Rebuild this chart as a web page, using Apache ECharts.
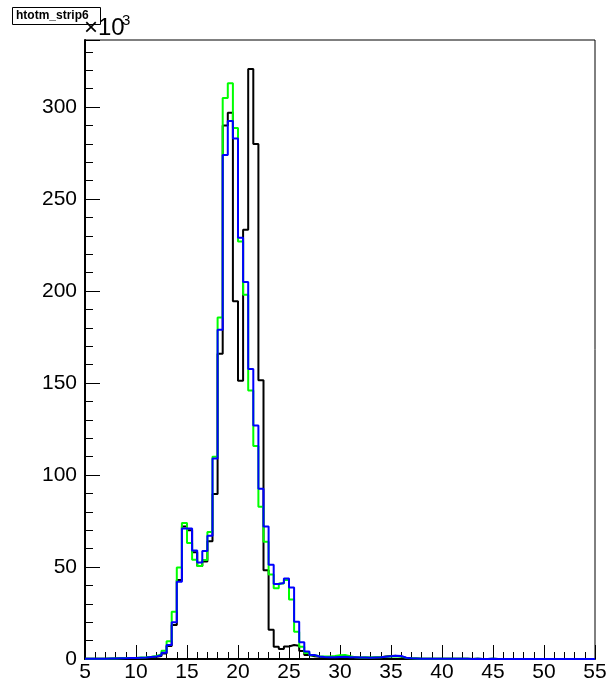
<!DOCTYPE html>
<html>
<head>
<meta charset="utf-8">
<script src="https://cdn.jsdelivr.net/npm/echarts@6/dist/echarts.min.js"></script>
<style>
html,body{margin:0;padding:0;background:#fff;}
#c{width:611px;height:689px;}
</style>
</head>
<body>
<div id="c"></div>
<script>
// Histogram: 100 bins of width 0.5 from 5 to 55, values in units of 10^3
const xMin = 5, xMax = 55, binWidth = 0.5;
const yMax = 336.5;
const histName = 'htotm_strip6';
const scaleText = '×10';
const scaleExponent = '3';

const blackValues = [
  0.1,0.1,0.1,0.2,0.2,0.3,0.3,0.4,0.4,0.5,
  0.6,0.7,0.9,1.2,1.6,3.0,7.0,18.5,43,72,
  70,58,50.5,53,64,89.7,166,290,297,194.5,
  151.2,233.4,320.8,280,151.6,48.2,15.9,6.6,5.5,6.8,
  7.6,7.2,4.4,2.2,1.5,1.2,1.0,0.9,0.9,1.0,
  1.0,0.9,0.8,0.7,0.7,0.7,0.8,0.9,1.3,1.6,
  1.7,1.4,0.6,0.4,0.3,0.2,0.2,0.1,0.1,0.1,
  0.1,0.1,0.1,0.1,0.1,0,0.1,0,0,0.1,
  0,0,0,0,0,0,0,0,0,0,
  0,0,0,0,0,0,0,0,0,0
];
const greenValues = [
  0.1,0.1,0.2,0.2,0.3,0.3,0.4,0.5,0.5,0.6,
  0.8,0.9,1.2,1.6,2.5,4.5,9.6,25.7,49.8,74,
  63,54,50.5,53.8,69,110,185.7,305,313,288.6,
  227,198,146,115.8,82.8,63.7,46,38.4,41,43,
  32.4,14.8,6.7,3.3,2.0,1.5,1.3,1.3,1.6,2.1,
  2.2,1.5,1.0,0.8,0.9,0.8,0.9,1.0,1.2,1.4,
  1.5,1.3,0.6,0.4,0.3,0.2,0.2,0.1,0.1,0.1,
  0.1,0.1,0.1,0.1,0.1,0,0.1,0,0,0.1,
  0,0,0,0,0,0,0,0,0,0,
  0,0,0,0,0,0,0,0,0,0
];
const blueValues = [
  0.1,0.1,0.2,0.2,0.3,0.3,0.4,0.4,0.5,0.5,
  0.7,0.8,1.1,1.4,2.0,3.4,7.6,20,42,71,
  71,59,52.5,58.7,67,109,179,274,292.5,283,
  229,205,157.6,127,92.5,72,51.3,40.8,41.3,43.8,
  38.9,20.3,9.1,4.1,2.2,1.4,1.1,1.0,1.0,1.1,
  1.2,1.0,0.9,0.8,0.8,0.7,0.8,0.9,1.2,1.5,
  1.8,1.6,0.7,0.4,0.3,0.2,0.2,0.1,0.1,0.1,
  0.1,0.1,0.1,0.1,0.1,0,0.1,0,0,0.1,
  0,0,0,0,0,0,0,0,0,0,
  0,0,0,0,0,0,0,0,0,0
];
const seriesColors = ['#000000', '#00ff00', '#0000ff'];

const binEdges = blackValues.map((_, i) => xMin + i * binWidth);
function stepData(vals) {
  const d = vals.map((v, i) => [binEdges[i], v]);
  d.push([xMax, vals[vals.length - 1]]);
  return d;
}

const FONT = '"Liberation Sans", Arial, Helvetica, sans-serif';
const chart = echarts.init(document.getElementById('c'), null, {renderer: 'canvas'});

function histSeries(vals, color) {
  return {
    type: 'line', step: 'end', symbol: 'none', animation: false,
    data: stepData(vals), xAxisIndex: 0, yAxisIndex: 0,
    lineStyle: {color: color, width: 2}, silent: true
  };
}

chart.setOption({
  backgroundColor: '#ffffff',
  animation: false,
  title: [
    {
      text: scaleText, left: 84, top: 16, padding: 0,
      textStyle: {fontFamily: FONT, fontSize: 24, fontWeight: 'normal', color: '#000'}
    },
    {
      text: scaleExponent, left: 122, top: 13, padding: 0,
      textStyle: {fontFamily: FONT, fontSize: 15, fontWeight: 'normal', color: '#000'}
    },
    {
      text: histName, left: 12, top: 7,
      padding: [3, 12, 3, 4],
      borderColor: '#000', borderWidth: 1, backgroundColor: '#fff',
      textStyle: {fontFamily: FONT, fontSize: 12, fontWeight: 'bold', color: '#000'}
    }
  ],
  grid: {left: 85, right: 16, top: 40, bottom: 30, show: true, borderColor: '#000', borderWidth: 1, backgroundColor: 'transparent', containLabel: false},
  xAxis: [{
    type: 'value', min: xMin, max: xMax, interval: 5,
    axisLine: {show: true, onZero: false, lineStyle: {color: '#000', width: 2}},
    axisTick: {show: true, inside: true, length: 14, lineStyle: {color: '#000', width: 1}},
    minorTick: {show: true, splitNumber: 5, length: 7, lineStyle: {color: '#000', width: 1}},
    splitLine: {show: false},
    axisLabel: {fontFamily: FONT, fontSize: 21, color: '#000', margin: 3}
  }],
  yAxis: [{
    type: 'value', min: 0, max: yMax, interval: 50,
    axisLine: {show: true, onZero: false, lineStyle: {color: '#000', width: 2}},
    axisTick: {show: true, inside: true, length: 15, lineStyle: {color: '#000', width: 1}},
    splitLine: {show: false},
    axisLabel: {fontFamily: FONT, fontSize: 21, color: '#000', margin: 8,
      formatter: v => (Math.abs(v % 50) < 1e-6 ? String(v) : '')}
  }, {
    type: 'value', min: 0, max: yMax, interval: 10, position: 'left',
    axisLine: {show: false},
    axisTick: {show: true, inside: true, length: 8, lineStyle: {color: '#000', width: 1}},
    axisLabel: {show: false}, splitLine: {show: false}
  }],
  series: [
    histSeries(blackValues, seriesColors[0]),
    histSeries(greenValues, seriesColors[1]),
    histSeries(blueValues, seriesColors[2])
  ]
});
</script>
</body>
</html>
